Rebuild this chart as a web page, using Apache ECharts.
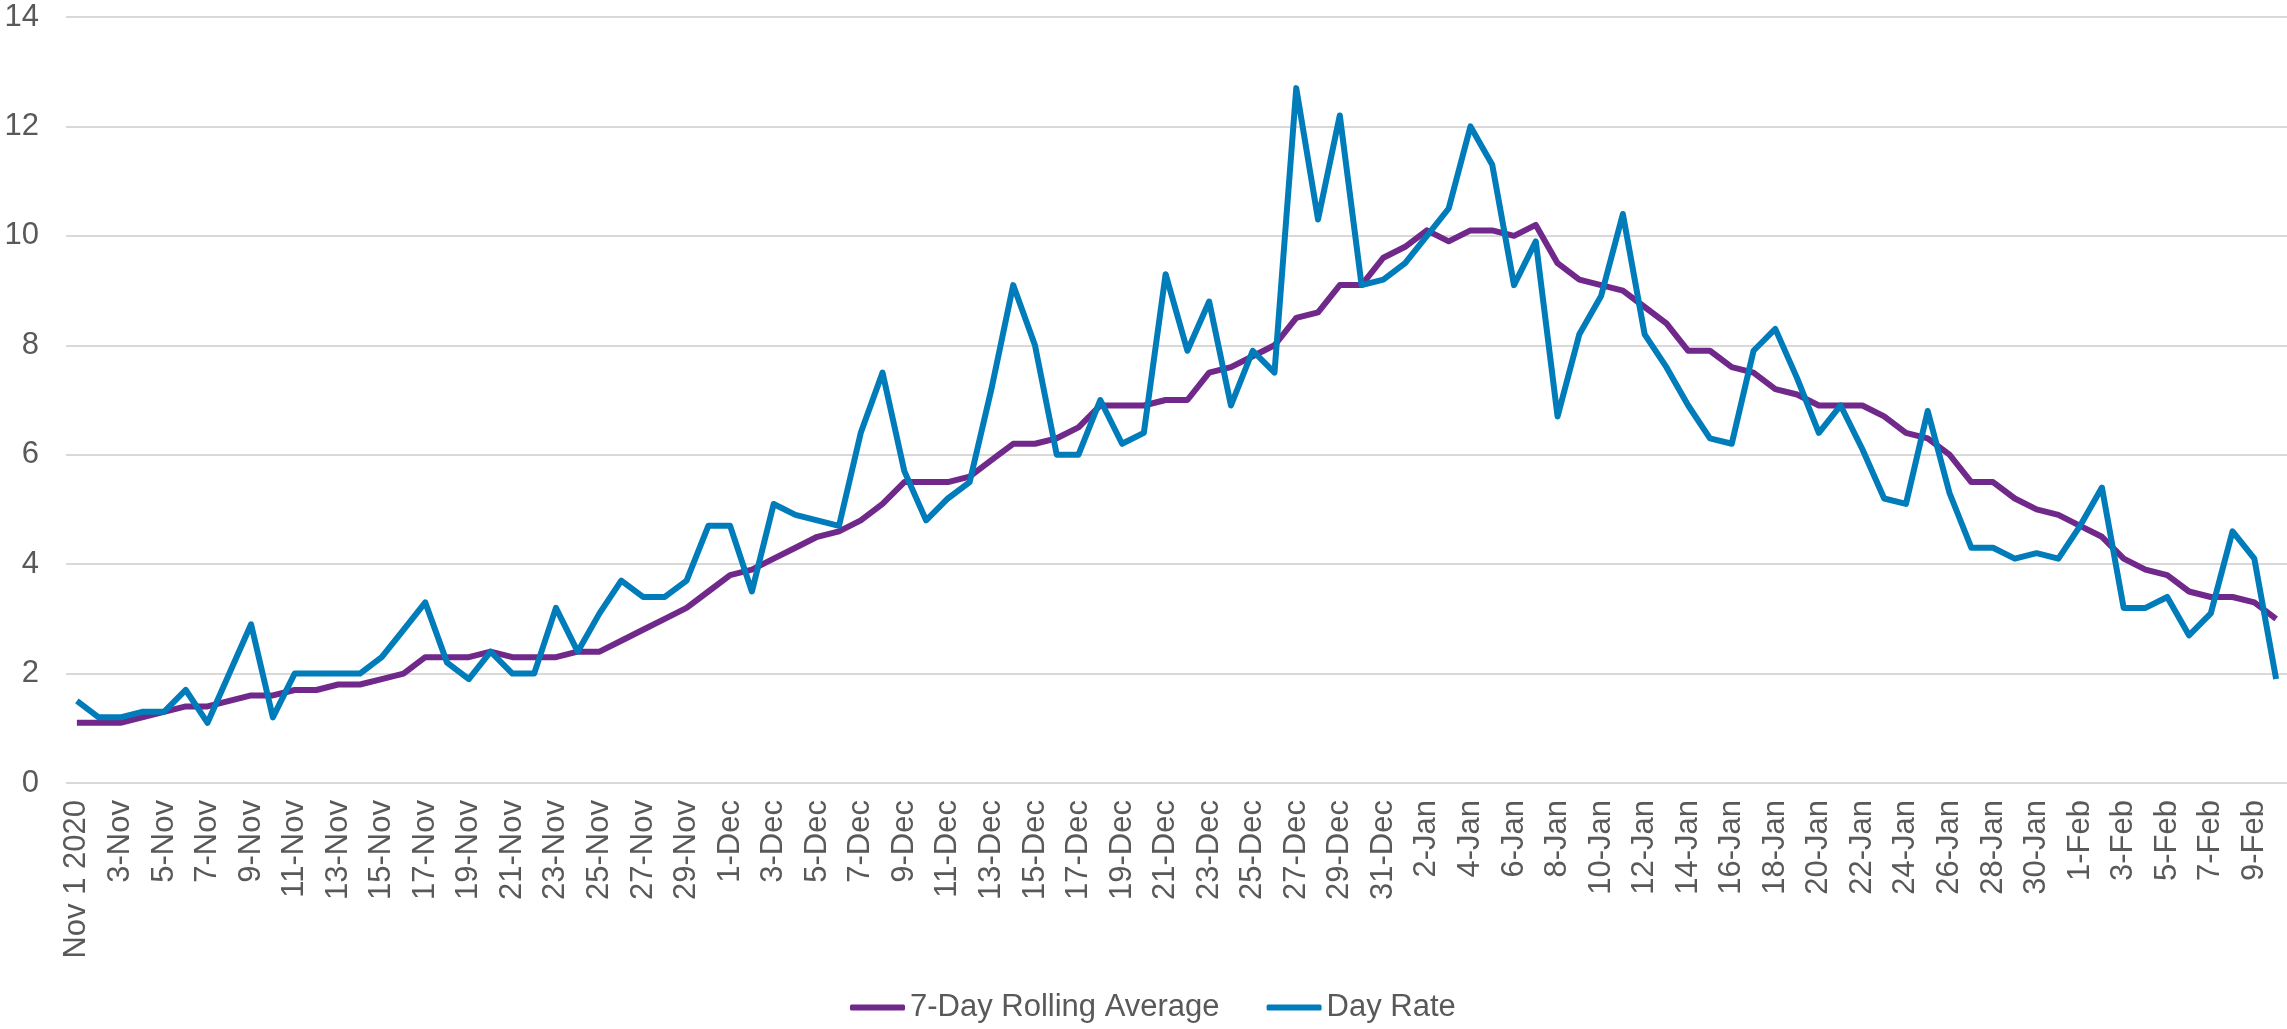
<!DOCTYPE html>
<html>
<head>
<meta charset="utf-8">
<title>Day Rate and 7-Day Rolling Average</title>
<script src="https://cdn.jsdelivr.net/npm/echarts@6/dist/echarts.min.js"></script>
<style>
  html, body { margin: 0; padding: 0; background: #fff; }
  #chart { width: 2287px; height: 1029px; }
</style>
</head>
<body>
<div id="chart"></div>
<script>
// one label per day, Nov 1 2020 .. 10-Feb
const days = [
  'Nov 1 2020', '2-Nov', '3-Nov', '4-Nov', '5-Nov', '6-Nov', '7-Nov', '8-Nov', '9-Nov', '10-Nov',
  '11-Nov', '12-Nov', '13-Nov', '14-Nov', '15-Nov', '16-Nov', '17-Nov', '18-Nov', '19-Nov', '20-Nov',
  '21-Nov', '22-Nov', '23-Nov', '24-Nov', '25-Nov', '26-Nov', '27-Nov', '28-Nov', '29-Nov', '30-Nov',
  '1-Dec', '2-Dec', '3-Dec', '4-Dec', '5-Dec', '6-Dec', '7-Dec', '8-Dec', '9-Dec', '10-Dec',
  '11-Dec', '12-Dec', '13-Dec', '14-Dec', '15-Dec', '16-Dec', '17-Dec', '18-Dec', '19-Dec', '20-Dec',
  '21-Dec', '22-Dec', '23-Dec', '24-Dec', '25-Dec', '26-Dec', '27-Dec', '28-Dec', '29-Dec', '30-Dec',
  '31-Dec', '1-Jan', '2-Jan', '3-Jan', '4-Jan', '5-Jan', '6-Jan', '7-Jan', '8-Jan', '9-Jan',
  '10-Jan', '11-Jan', '12-Jan', '13-Jan', '14-Jan', '15-Jan', '16-Jan', '17-Jan', '18-Jan', '19-Jan',
  '20-Jan', '21-Jan', '22-Jan', '23-Jan', '24-Jan', '25-Jan', '26-Jan', '27-Jan', '28-Jan', '29-Jan',
  '30-Jan', '31-Jan', '1-Feb', '2-Feb', '3-Feb', '4-Feb', '5-Feb', '6-Feb', '7-Feb', '8-Feb',
  '9-Feb', '10-Feb'
];

const rollingAvg = [
  1.1, 1.1, 1.1, 1.2, 1.3, 1.4, 1.4, 1.5, 1.6, 1.6, 1.7, 1.7, 1.8, 1.8, 1.9, 2.0, 2.3, 2.3, 2.3, 2.4,
  2.3, 2.3, 2.3, 2.4, 2.4, 2.6, 2.8, 3.0, 3.2, 3.5,
  3.8, 3.9, 4.1, 4.3, 4.5, 4.6, 4.8, 5.1, 5.5, 5.5, 5.5, 5.6, 5.9, 6.2, 6.2, 6.3, 6.5, 6.9, 6.9, 6.9,
  7.0, 7.0, 7.5, 7.6, 7.8, 8.0, 8.5, 8.6, 9.1, 9.1, 9.6,
  9.8, 10.1, 9.9, 10.1, 10.1, 10.0, 10.2, 9.5, 9.2, 9.1, 9.0, 8.7, 8.4, 7.9, 7.9, 7.6, 7.5, 7.2, 7.1, 6.9,
  6.9, 6.9, 6.7, 6.4, 6.3, 6.0, 5.5, 5.5, 5.2, 5.0, 4.9,
  4.7, 4.5, 4.1, 3.9, 3.8, 3.5, 3.4, 3.4, 3.3, 3.0
];

const dayRate = [
  1.5, 1.2, 1.2, 1.3, 1.3, 1.7, 1.1, 2.0, 2.9, 1.2, 2.0, 2.0, 2.0, 2.0, 2.3, 2.8, 3.3, 2.2, 1.9, 2.4,
  2.0, 2.0, 3.2, 2.4, 3.1, 3.7, 3.4, 3.4, 3.7, 4.7,
  4.7, 3.5, 5.1, 4.9, 4.8, 4.7, 6.4, 7.5, 5.7, 4.8, 5.2, 5.5, 7.2, 9.1, 8.0, 6.0, 6.0, 7.0, 6.2, 6.4,
  9.3, 7.9, 8.8, 6.9, 7.9, 7.5, 12.7, 10.3, 12.2, 9.1, 9.2,
  9.5, 10.0, 10.5, 12.0, 11.3, 9.1, 9.9, 6.7, 8.2, 8.9, 10.4, 8.2, 7.6, 6.9, 6.3, 6.2, 7.9, 8.3, 7.4, 6.4,
  6.9, 6.1, 5.2, 5.1, 6.8, 5.3, 4.3, 4.3, 4.1, 4.2, 4.1,
  4.7, 5.4, 3.2, 3.2, 3.4, 2.7, 3.1, 4.6, 4.1, 1.9
];

const yTicks = { min: 0, max: 14, step: 2 };

const textColor = '#595959';
const gridColor = '#d9d9d9';
const purple = '#70288a';
const blue = '#007cba';
const font = '"Liberation Sans", Arial, sans-serif';

const chart = echarts.init(document.getElementById('chart'));

chart.setOption({
  animation: false,
  textStyle: { fontFamily: font, color: textColor },
  grid: { left: 66, right: 0, top: 17, bottom: 246, containLabel: false },
  legend: {
    left: 845,
    top: 987,
    icon: 'roundRect',
    itemWidth: 55,
    itemHeight: 6,
    itemGap: 47,
    textStyle: { fontFamily: font, fontSize: 31, color: textColor },
    data: [
      { name: '7-Day Rolling Average', itemStyle: { color: purple } },
      { name: 'Day Rate', itemStyle: { color: blue } }
    ]
  },
  xAxis: {
    type: 'category',
    data: days,
    boundaryGap: true,
    axisLine: { show: false },
    axisTick: { show: false },
    splitLine: { show: false },
    axisLabel: {
      interval: 1,
      rotate: 90,
      margin: 17,
      fontSize: 31,
      color: textColor,
      fontFamily: font
    }
  },
  yAxis: {
    type: 'value',
    min: yTicks.min,
    max: yTicks.max,
    interval: yTicks.step,
    axisLine: { show: false },
    axisTick: { show: false },
    axisLabel: { margin: 27, fontSize: 31, color: textColor, fontFamily: font },
    splitLine: { lineStyle: { color: gridColor, width: 2 } }
  },
  series: [
    {
      name: '7-Day Rolling Average',
      type: 'line',
      data: rollingAvg,
      showSymbol: false,
      color: purple,
      lineStyle: { color: purple, width: 6, join: 'round' },
      z: 2
    },
    {
      name: 'Day Rate',
      type: 'line',
      data: dayRate,
      showSymbol: false,
      color: blue,
      lineStyle: { color: blue, width: 6, join: 'round' },
      z: 3
    }
  ]
});
</script>
</body>
</html>
